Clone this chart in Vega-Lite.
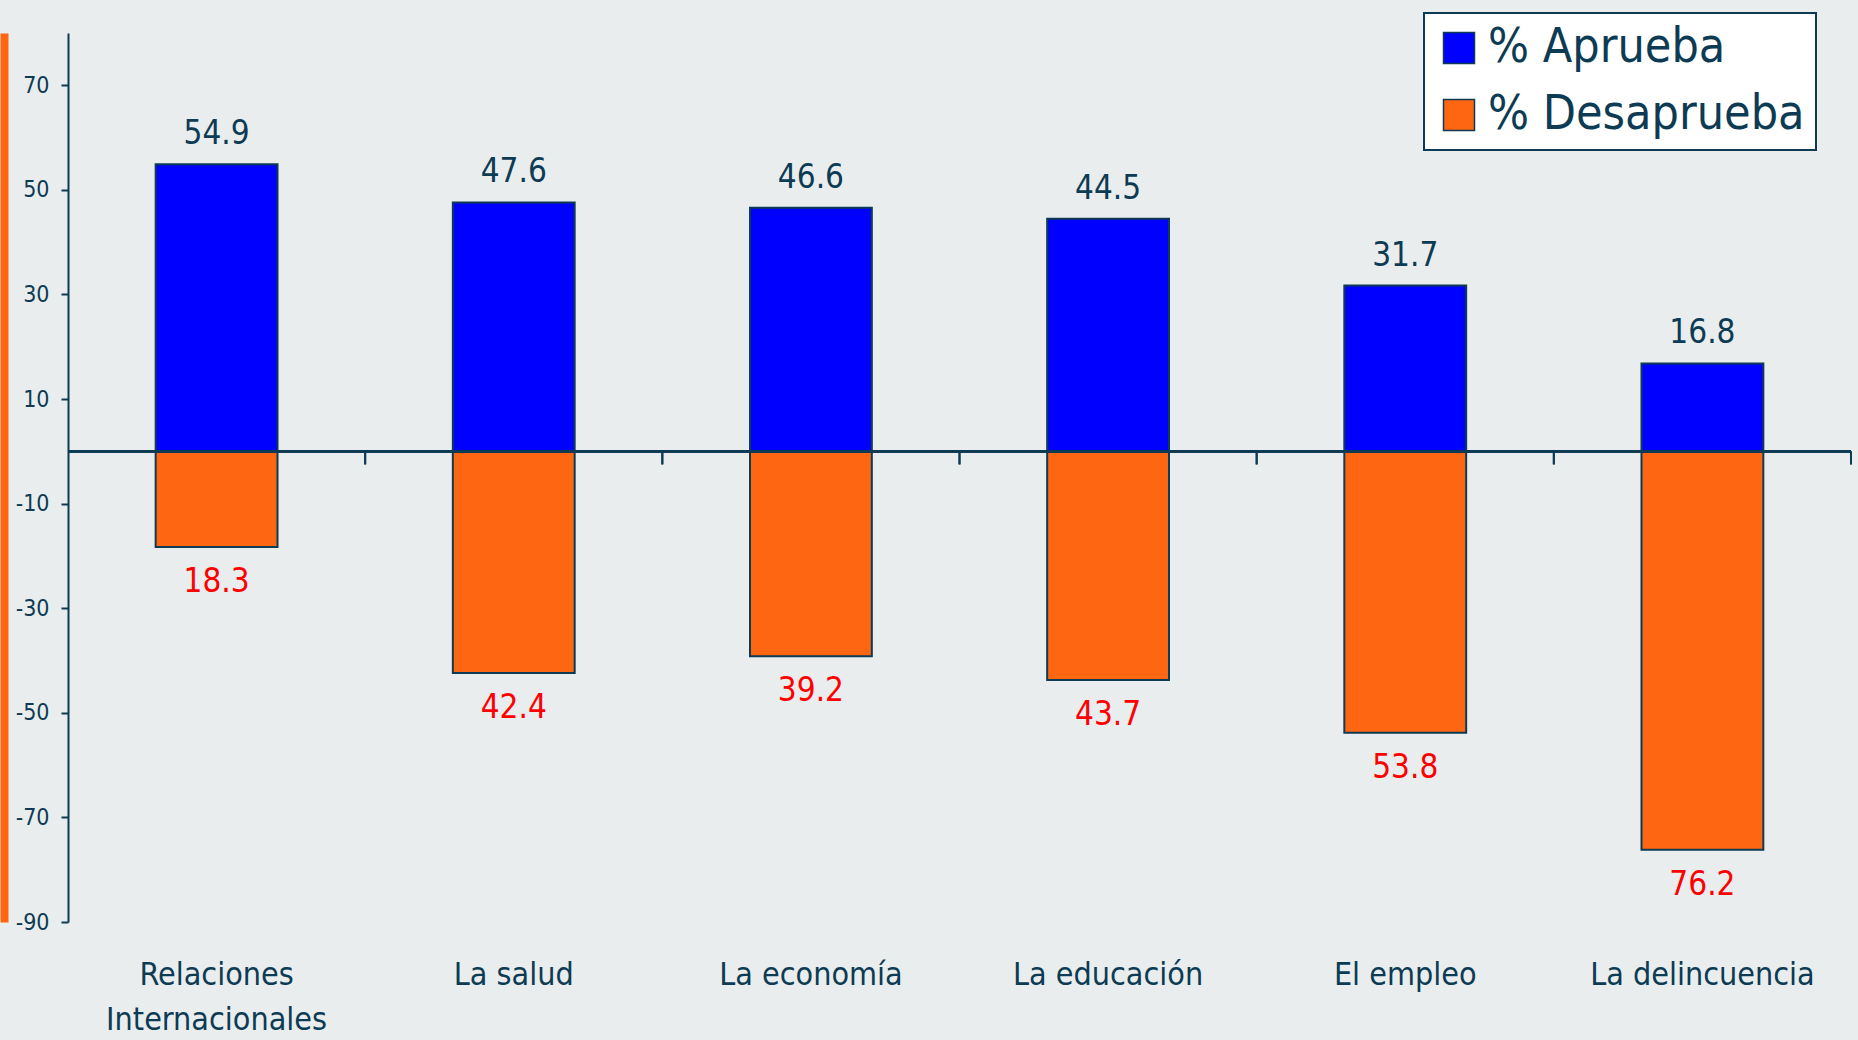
{
  "$schema": "https://vega.github.io/schema/vega-lite/v6.json",
  "width": 1783,
  "height": 889,
  "autosize": {"type": "none"},
  "padding": {"left": 68, "top": 33, "right": 7, "bottom": 118},
  "background": "#E9EDEE",
  "config": {"view": {"stroke": null}, "font": "DejaVu Sans Condensed"},
  "data": {
    "values": [
      {"tema": "Relaciones Internacionales", "serie": "% Aprueba", "pct": 54.9},
      {"tema": "Relaciones Internacionales", "serie": "% Desaprueba", "pct": 18.3},
      {"tema": "La salud", "serie": "% Aprueba", "pct": 47.6},
      {"tema": "La salud", "serie": "% Desaprueba", "pct": 42.4},
      {"tema": "La economía", "serie": "% Aprueba", "pct": 46.6},
      {"tema": "La economía", "serie": "% Desaprueba", "pct": 39.2},
      {"tema": "La educación", "serie": "% Aprueba", "pct": 44.5},
      {"tema": "La educación", "serie": "% Desaprueba", "pct": 43.7},
      {"tema": "El empleo", "serie": "% Aprueba", "pct": 31.7},
      {"tema": "El empleo", "serie": "% Desaprueba", "pct": 53.8},
      {"tema": "La delincuencia", "serie": "% Aprueba", "pct": 16.8},
      {"tema": "La delincuencia", "serie": "% Desaprueba", "pct": 76.2}
    ]
  },
  "transform": [
    {"calculate": "datum.serie == '% Desaprueba' ? -datum.pct : datum.pct", "as": "signed"}
  ],
  "layer": [
    {
      "mark": {"type": "bar", "stroke": "#0D3B54", "strokeWidth": 2},
      "encoding": {
        "x": {
          "field": "tema", "type": "nominal", "sort": null,
          "scale": {"paddingInner": 0.59, "paddingOuter": 0.295},
          "axis": {
            "title": null, "orient": "bottom", "domain": false, "ticks": false, "tickSize": 0,
            "labelAngle": 0, "labelFontSize": 32, "labelColor": "#0D3B54", "labelPadding": 37,
            "labelLineHeight": 45, "labelLimit": 400,
            "labelExpr": "datum.value == 'Relaciones Internacionales' ? ['Relaciones', 'Internacionales'] : datum.value"
          }
        },
        "y": {
          "field": "signed", "type": "quantitative",
          "scale": {"domain": [-90, 80], "nice": false},
          "axis": {
            "title": null, "values": [-90, -70, -50, -30, -10, 10, 30, 50, 70], "grid": false,
            "labelExpr": "toString(datum.value)",
            "domainColor": "#0D3B54", "domainWidth": 2, "tickColor": "#0D3B54", "tickWidth": 2,
            "tickSize": 7, "labelFontSize": 23, "labelColor": "#0D3B54", "labelPadding": 12
          }
        },
        "color": {
          "field": "serie", "type": "nominal",
          "scale": {"domain": ["% Aprueba", "% Desaprueba"], "range": ["#0000FF", "#FF6611"]},
          "legend": {
            "title": null, "orient": "none", "legendX": 1356, "legendY": -20, "direction": "vertical",
            "fillColor": "#FFFFFF", "strokeColor": "#0D3B54", "padding": 11,
            "symbolType": "square", "symbolSize": 961, "symbolStrokeColor": "#0D3B54",
            "symbolStrokeWidth": 1.5, "symbolOpacity": 1, "labelFontSize": 48, "labelColor": "#0D3B54",
            "labelOffset": 5, "rowPadding": 19, "labelLimit": 600,
            "encode": {"legend": {"update": {"strokeWidth": {"value": 2}}}}
          }
        }
      }
    },
    {
      "mark": {"type": "rule", "color": "#0D3B54", "strokeWidth": 2},
      "encoding": {
        "y": {
          "datum": 0, "type": "quantitative",
          "axis": {
            "title": null, "orient": "right", "offset": -1847, "domainColor": "#FF6611", "domainWidth": 8,
            "ticks": false, "labels": false, "grid": false
          }
        }
      }
    },
    {
      "mark": {"type": "rule", "color": "#0D3B54", "strokeWidth": 2},
      "encoding": {
        "x": {"field": "tema", "type": "nominal", "sort": null, "bandPosition": 1.7195, "axis": null},
        "y": {"datum": 0, "type": "quantitative", "axis": null},
        "y2": {"datum": -2.5}
      }
    },
    {
      "transform": [{"filter": "datum.serie == '% Aprueba'"}],
      "mark": {"type": "text", "fontSize": 33, "color": "#0D3B54", "baseline": "alphabetic", "dy": -20},
      "encoding": {
        "x": {"field": "tema", "type": "nominal", "sort": null, "axis": null},
        "y": {"field": "signed", "type": "quantitative", "axis": null},
        "text": {"field": "pct", "type": "quantitative", "format": ".1f"}
      }
    },
    {
      "transform": [{"filter": "datum.serie == '% Desaprueba'"}],
      "mark": {"type": "text", "fontSize": 33, "color": "#FF0000", "baseline": "alphabetic", "dy": 45},
      "encoding": {
        "x": {"field": "tema", "type": "nominal", "sort": null, "axis": null},
        "y": {"field": "signed", "type": "quantitative", "axis": null},
        "text": {"field": "pct", "type": "quantitative", "format": ".1f"}
      }
    }
  ],
  "resolve": {"axis": {"x": "independent", "y": "independent"}}
}
